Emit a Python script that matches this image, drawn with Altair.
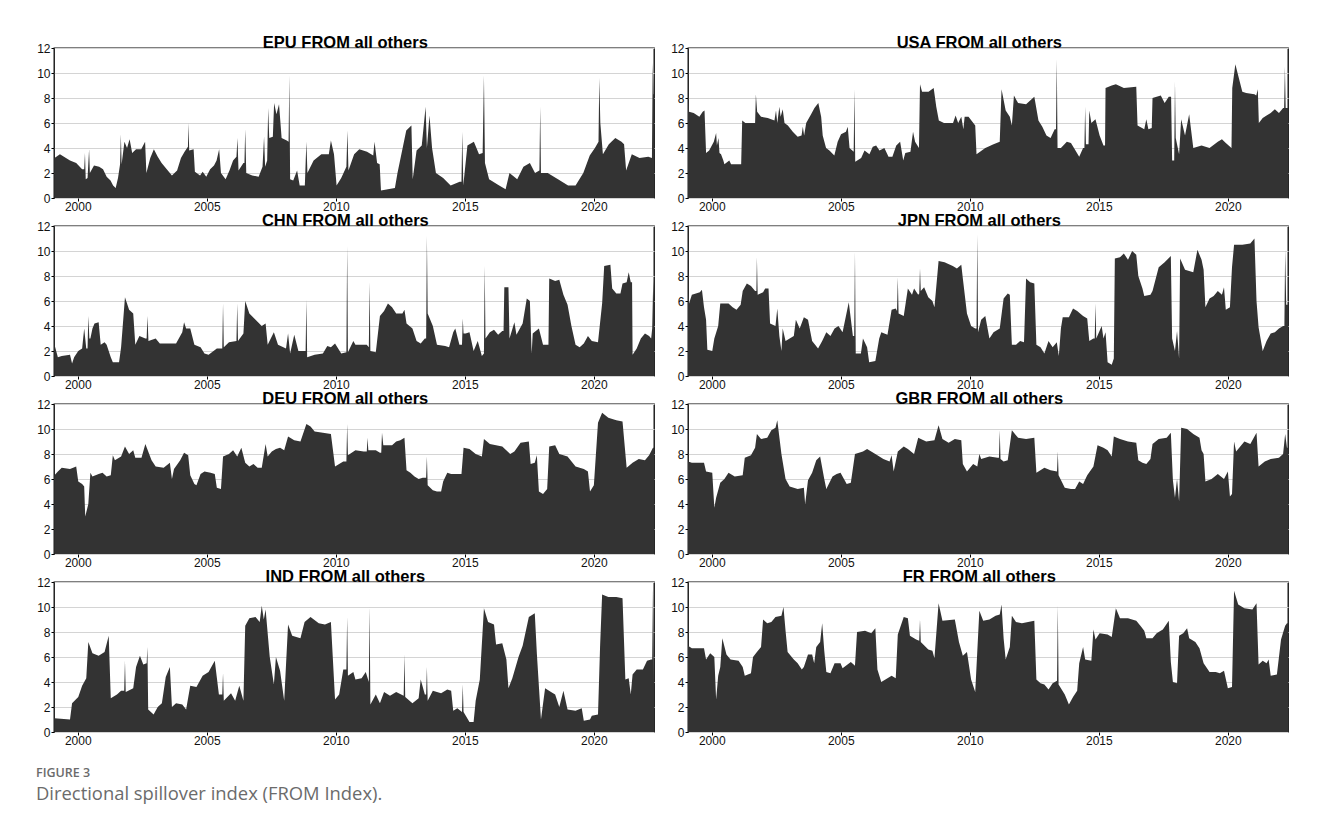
import altair as alt
import pandas as pd

# ---- data: (decimal year, FROM index) ----
EPU = [(1999.10,3.2),(1999.31,3.5),(1999.70,3.0),(1999.94,2.8),(2000.17,2.3),(2000.25,2.3),(2000.28,3.6),(2000.31,1.5),
       (2000.38,1.6),(2000.44,3.9),(2000.47,2.0),(2000.63,2.6),(2000.83,2.5),(2000.98,2.3),(2001.12,1.7),(2001.27,1.4),
       (2001.37,1.0),(2001.47,0.8),(2001.56,1.6),(2001.64,2.7),(2001.67,5.1),(2001.70,2.7),(2001.81,4.5),(2001.91,4.0),
       (2002.01,4.7),(2002.11,3.6),(2002.26,3.9),(2002.46,3.9),(2002.61,4.5),(2002.66,2.0),(2002.81,3.2),(2002.95,3.9),
       (2003.10,3.3),(2003.25,2.8),(2003.45,2.3),(2003.65,1.8),(2003.85,2.2),(2004.00,3.2),(2004.14,3.7),(2004.27,4.1),
       (2004.29,6.0),(2004.32,3.8),(2004.49,3.9),(2004.54,2.1),(2004.74,1.8),(2004.84,2.1),(2004.98,1.7),(2005.13,2.3),
       (2005.28,2.6),(2005.38,3.0),(2005.48,3.9),(2005.55,2.0),(2005.73,1.5),(2005.88,2.2),(2006.02,3.0),(2006.15,3.3),
       (2006.19,4.8),(2006.23,2.2),(2006.42,2.8),(2006.46,2.8),(2006.49,5.5),(2006.53,2.0),(2006.76,1.8),(2007.01,1.7),
       (2007.16,2.5),(2007.22,4.9),(2007.26,2.5),(2007.34,3.0),(2007.38,7.2),(2007.42,4.8),(2007.56,4.9),(2007.61,7.6),
       (2007.70,6.7),(2007.80,7.5),(2007.90,4.8),(2008.10,4.6),(2008.17,4.5),(2008.20,9.8),(2008.23,1.5),(2008.35,1.4),
       (2008.50,2.2),(2008.60,1.0),(2008.80,1.0),(2008.86,4.5),(2008.90,2.0),(2009.14,3.0),(2009.44,3.5),(2009.73,3.5),
       (2009.81,4.6),(2009.93,3.5),(2010.03,1.0),(2010.21,1.6),(2010.41,2.5),(2010.45,5.4),(2010.49,2.2),(2010.71,3.5),
       (2010.91,3.9),(2011.21,3.7),(2011.45,3.4),(2011.50,4.5),(2011.60,2.8),(2011.70,2.7),(2011.75,0.6),(2012.29,0.8),
       (2012.39,2.0),(2012.54,3.5),(2012.73,5.4),(2012.93,5.8),(2012.98,1.5),(2013.13,3.8),(2013.33,4.2),(2013.48,7.3),
       (2013.53,4.0),(2013.63,6.6),(2013.73,4.0),(2013.88,2.0),(2014.16,1.6),(2014.45,1.0),(2014.80,1.3),(2014.87,1.3),
       (2014.90,5.3),(2014.94,1.0),(2015.10,4.2),(2015.35,4.5),(2015.55,3.5),(2015.69,3.6),(2015.74,9.8),(2015.78,2.8),
       (2015.94,1.5),(2016.33,1.0),(2016.58,0.7),(2016.73,2.0),(2017.03,1.5),(2017.27,2.5),(2017.52,2.8),(2017.72,2.0),
       (2017.89,2.2),(2017.92,7.3),(2017.95,2.0),(2018.21,2.0),(2018.61,1.5),(2019.00,1.0),(2019.29,1.0),(2019.59,2.0),
       (2019.84,3.4),(2020.04,4.0),(2020.18,4.5),(2020.21,9.6),(2020.25,6.0),(2020.35,3.5),(2020.58,4.3),(2020.83,4.8),
       (2021.07,4.5),(2021.17,4.3),(2021.25,2.2),(2021.47,3.5),(2021.77,3.2),(2022.11,3.3),(2022.25,3.2),(2022.28,10.8),
       (2022.31,8.3),(2022.33,8.3)]

USA = [(1999.08,7.8),(1999.12,6.9),(1999.30,6.8),(1999.52,6.5),(1999.65,6.9),(1999.72,7.0),(1999.78,3.6),(1999.90,3.8),
       (2000.08,4.5),(2000.17,5.2),(2000.20,4.2),(2000.26,4.8),(2000.30,3.6),(2000.36,3.5),(2000.45,3.0),(2000.49,2.7),
       (2000.68,3.0),(2000.75,2.7),(2001.14,2.7),(2001.18,6.2),(2001.30,6.0),(2001.68,6.0),(2001.71,8.3),(2001.76,6.9),
       (2001.91,6.5),(2002.17,6.4),(2002.43,6.2),(2002.49,7.0),(2002.54,6.0),(2002.62,7.3),(2002.67,6.5),(2002.75,7.1),
       (2002.82,6.0),(2002.95,5.8),(2003.14,5.3),(2003.33,4.9),(2003.48,5.0),(2003.53,5.7),(2003.58,5.0),(2003.66,6.0),
       (2003.85,6.7),(2003.98,7.2),(2004.13,7.6),(2004.24,6.5),(2004.30,5.0),(2004.43,4.0),(2004.56,3.8),(2004.75,3.4),
       (2004.88,4.5),(2005.01,5.1),(2005.20,5.3),(2005.27,5.7),(2005.34,4.0),(2005.50,3.7),(2005.53,8.7),(2005.56,2.9),
       (2005.79,3.2),(2005.92,3.8),(2006.11,3.5),(2006.24,4.1),(2006.37,4.2),(2006.50,3.8),(2006.69,4.0),(2006.85,3.3),
       (2007.00,3.3),(2007.15,4.2),(2007.30,4.5),(2007.42,3.0),(2007.50,3.6),(2007.70,3.7),(2007.80,5.3),(2007.88,4.5),
       (2008.03,4.0),(2008.07,9.1),(2008.15,8.5),(2008.40,8.5),(2008.60,8.8),(2008.70,7.3),(2008.80,6.2),(2009.00,6.0),
       (2009.35,6.0),(2009.45,6.6),(2009.55,6.0),(2009.67,6.5),(2009.75,5.5),(2009.80,6.5),(2009.95,6.5),(2010.21,5.8),
       (2010.26,3.5),(2010.60,4.0),(2010.92,4.3),(2011.16,4.5),(2011.23,8.7),(2011.39,7.0),(2011.55,6.5),(2011.63,5.8),
       (2011.71,8.2),(2011.87,7.6),(2012.18,7.5),(2012.34,7.8),(2012.50,8.1),(2012.66,6.2),(2012.81,5.7),(2012.97,5.0),
       (2013.13,4.8),(2013.29,5.5),(2013.34,5.5),(2013.37,11.1),(2013.40,4.0),(2013.53,4.0),(2013.76,4.5),(2013.92,4.4),
       (2014.24,3.3),(2014.39,4.0),(2014.44,4.0),(2014.47,7.3),(2014.50,4.3),(2014.60,4.3),(2014.63,7.0),(2014.71,6.0),
       (2014.87,6.3),(2015.03,5.0),(2015.18,4.2),(2015.24,4.2),(2015.26,8.8),(2015.50,9.0),(2015.66,9.1),(2015.97,8.8),
       (2016.45,8.9),(2016.50,5.8),(2016.76,5.5),(2016.84,6.3),(2016.92,5.5),(2017.05,5.6),(2017.08,8.0),(2017.40,8.2),
       (2017.55,7.6),(2017.71,8.1),(2017.80,8.1),(2017.84,3.0),(2017.92,3.0),(2017.95,9.3),(2017.98,4.8),(2018.11,3.5),
       (2018.19,6.3),(2018.34,5.0),(2018.50,6.7),(2018.66,4.0),(2018.98,4.2),(2019.29,4.0),(2019.61,4.5),(2019.77,4.7),
       (2019.92,4.4),(2020.14,4.0),(2020.17,8.8),(2020.29,10.7),(2020.40,9.8),(2020.56,8.5),(2020.71,8.4),(2021.03,8.3),
       (2021.10,8.2),(2021.16,8.7),(2021.20,6.0),(2021.35,6.4),(2021.50,6.6),(2021.66,6.8),(2021.82,7.1),(2021.98,6.8),
       (2022.14,7.2),(2022.18,7.2),(2022.21,10.5),(2022.24,7.2),(2022.33,7.2)]

CHN = [(1999.10,2.5),(1999.23,1.5),(1999.38,1.6),(1999.70,1.7),(1999.78,1.0),(1999.86,1.5),(2000.02,2.0),(2000.17,2.2),
       (2000.25,3.8),(2000.33,2.2),(2000.38,2.2),(2000.41,4.8),(2000.45,3.0),(2000.49,3.0),(2000.57,3.8),(2000.65,4.2),
       (2000.81,4.3),(2000.89,2.5),(2001.04,2.7),(2001.12,2.5),(2001.28,1.5),(2001.36,1.1),(2001.60,1.1),(2001.68,2.3),
       (2001.83,6.3),(2001.99,5.3),(2002.15,5.0),(2002.23,2.5),(2002.39,3.2),(2002.62,3.0),(2002.67,3.0),(2002.70,4.8),
       (2002.74,2.8),(2003.02,3.0),(2003.18,2.6),(2003.81,2.6),(2004.05,3.5),(2004.12,4.3),(2004.20,3.8),(2004.36,3.8),
       (2004.52,2.5),(2004.76,2.3),(2004.91,1.8),(2005.07,1.7),(2005.39,2.2),(2005.60,2.2),(2005.63,5.8),(2005.66,2.3),
       (2005.86,2.7),(2006.15,2.8),(2006.18,5.8),(2006.21,2.8),(2006.42,3.4),(2006.49,6.0),(2006.65,5.0),(2006.89,4.5),
       (2007.13,4.0),(2007.28,4.2),(2007.36,2.5),(2007.60,3.5),(2007.76,2.5),(2008.07,2.2),(2008.15,3.4),(2008.23,1.8),
       (2008.39,3.3),(2008.55,2.0),(2008.83,2.0),(2008.86,6.1),(2008.89,1.5),(2009.18,1.7),(2009.50,1.8),(2009.67,2.4),
       (2009.81,2.3),(2009.97,2.6),(2010.21,1.8),(2010.41,1.9),(2010.44,10.4),(2010.47,1.9),(2010.68,2.8),(2010.76,2.5),
       (2011.20,2.5),(2011.28,2.3),(2011.31,7.5),(2011.34,2.0),(2011.55,1.9),(2011.71,4.8),(2011.87,5.2),(2012.02,5.8),
       (2012.18,5.5),(2012.34,5.0),(2012.58,5.0),(2012.66,5.3),(2012.74,4.2),(2012.97,3.8),(2013.13,2.8),(2013.29,2.6),
       (2013.45,3.0),(2013.50,3.0),(2013.53,11.2),(2013.56,5.0),(2013.76,4.0),(2013.92,2.5),(2014.24,2.4),(2014.39,2.3),
       (2014.55,3.5),(2014.63,3.8),(2014.79,2.5),(2014.89,2.5),(2014.92,4.6),(2014.95,3.4),(2015.03,3.4),(2015.18,3.5),
       (2015.34,2.0),(2015.50,2.8),(2015.66,1.6),(2015.74,1.8),(2015.77,8.8),(2015.80,3.0),(2015.97,3.5),(2016.13,3.7),
       (2016.29,3.3),(2016.45,3.6),(2016.50,3.6),(2016.53,7.1),(2016.69,7.1),(2016.73,3.0),(2016.92,4.3),(2017.00,3.3),
       (2017.24,4.2),(2017.40,6.2),(2017.52,6.0),(2017.59,1.8),(2017.63,3.4),(2017.87,3.8),(2018.03,2.5),(2018.24,2.5),
       (2018.27,7.8),(2018.50,7.6),(2018.66,7.7),(2018.82,6.5),(2018.98,5.7),(2019.13,4.0),(2019.29,2.5),(2019.45,2.3),
       (2019.61,2.6),(2019.77,3.2),(2019.92,2.8),(2020.16,2.7),(2020.32,5.8),(2020.40,8.8),(2020.64,8.9),(2020.71,7.0),
       (2020.87,6.6),(2021.03,6.6),(2021.11,7.4),(2021.27,7.5),(2021.35,8.3),(2021.43,7.5),(2021.48,7.5),(2021.50,1.7),
       (2021.66,2.2),(2021.82,3.0),(2021.98,3.4),(2022.14,3.2),(2022.22,3.0),(2022.26,3.8),(2022.30,7.6),(2022.33,6.0)]

JPN = [(1999.08,6.7),(1999.12,5.8),(1999.23,6.5),(1999.54,6.7),(1999.62,6.9),(1999.70,5.5),(1999.78,4.5),(1999.83,2.1),
       (2000.02,2.0),(2000.10,3.0),(2000.25,4.0),(2000.33,5.8),(2000.65,5.8),(2000.81,5.5),(2000.96,5.3),(2001.12,5.7),
       (2001.20,6.8),(2001.36,7.4),(2001.52,7.2),(2001.68,6.8),(2001.73,6.8),(2001.75,9.5),(2001.78,6.5),(2001.99,6.7),
       (2002.07,7.0),(2002.20,7.0),(2002.26,4.2),(2002.47,4.0),(2002.54,5.4),(2002.62,3.2),(2002.70,2.0),(2002.75,3.8),
       (2002.86,2.8),(2003.18,3.2),(2003.26,4.5),(2003.41,3.8),(2003.57,4.7),(2003.73,4.5),(2003.89,2.8),(2004.12,2.2),
       (2004.28,2.8),(2004.44,3.5),(2004.60,3.2),(2004.76,3.8),(2004.91,4.0),(2005.07,3.5),(2005.31,5.9),(2005.47,3.2),
       (2005.52,3.2),(2005.55,9.9),(2005.58,1.8),(2005.78,1.8),(2005.86,3.0),(2006.02,2.3),(2006.10,1.1),(2006.34,1.2),
       (2006.49,3.0),(2006.57,3.5),(2006.81,3.3),(2006.97,5.3),(2007.13,5.4),(2007.18,5.2),(2007.21,7.9),(2007.24,5.0),
       (2007.44,4.8),(2007.60,7.0),(2007.76,6.5),(2007.84,7.0),(2008.00,6.5),(2008.04,6.6),(2008.07,8.6),(2008.10,6.8),
       (2008.23,7.1),(2008.39,6.3),(2008.55,6.0),(2008.63,5.5),(2008.79,9.2),(2009.02,9.1),(2009.34,8.8),(2009.50,8.6),
       (2009.67,8.9),(2009.73,7.8),(2009.89,5.0),(2010.05,4.0),(2010.21,3.8),(2010.26,3.8),(2010.29,11.3),(2010.32,3.5),
       (2010.44,4.5),(2010.60,4.8),(2010.76,3.0),(2010.92,3.5),(2011.16,3.8),(2011.31,6.2),(2011.47,6.6),(2011.55,6.5),
       (2011.63,2.5),(2011.79,2.5),(2011.95,2.8),(2012.10,2.7),(2012.18,7.8),(2012.34,7.5),(2012.50,7.4),(2012.58,2.5),
       (2012.74,2.3),(2012.89,1.8),(2013.05,2.8),(2013.21,2.3),(2013.37,2.7),(2013.45,1.6),(2013.53,3.8),(2013.60,4.7),
       (2013.84,4.7),(2014.00,5.4),(2014.16,5.2),(2014.39,4.8),(2014.55,4.6),(2014.63,2.8),(2014.79,3.0),(2014.84,3.0),
       (2014.87,5.8),(2014.90,3.0),(2015.11,4.0),(2015.18,3.0),(2015.26,3.5),(2015.34,1.1),(2015.50,0.9),(2015.58,1.4),
       (2015.62,9.4),(2015.82,9.5),(2015.97,9.8),(2016.13,9.3),(2016.29,10.0),(2016.45,9.7),(2016.53,8.0),(2016.69,7.0),
       (2016.76,6.4),(2017.00,6.5),(2017.08,6.8),(2017.32,8.7),(2017.55,9.1),(2017.79,9.6),(2017.84,3.0),(2017.95,2.0),
       (2018.03,3.6),(2018.11,1.4),(2018.15,9.4),(2018.34,8.5),(2018.66,8.3),(2018.82,10.1),(2018.98,9.3),(2019.06,8.5),
       (2019.13,5.5),(2019.29,6.2),(2019.45,6.4),(2019.61,6.8),(2019.77,6.5),(2019.85,7.1),(2019.92,5.3),(2020.08,5.5),
       (2020.16,8.7),(2020.24,10.5),(2020.56,10.5),(2020.87,10.6),(2021.03,11.0),(2021.11,6.0),(2021.19,3.9),(2021.35,2.0),
       (2021.50,2.8),(2021.66,3.4),(2021.82,3.5),(2021.98,3.8),(2022.14,4.0),(2022.19,4.0),(2022.22,10.1),(2022.26,5.7),
       (2022.33,5.7)]

DEU = [(1999.10,6.3),(1999.23,6.6),(1999.38,6.9),(1999.70,6.8),(1999.94,7.0),(2000.02,5.8),(2000.17,5.6),(2000.25,5.4),
       (2000.29,3.0),(2000.41,4.0),(2000.49,6.5),(2000.57,6.2),(2000.81,6.4),(2000.96,6.5),(2001.12,6.2),(2001.28,6.3),
       (2001.36,7.9),(2001.44,7.5),(2001.68,7.8),(2001.83,8.6),(2001.99,8.0),(2002.15,8.3),(2002.23,7.7),(2002.47,7.7),
       (2002.62,8.8),(2002.86,7.5),(2003.02,7.0),(2003.33,6.9),(2003.57,7.3),(2003.65,6.0),(2003.73,6.8),(2003.97,7.5),
       (2004.12,8.1),(2004.28,7.9),(2004.36,6.3),(2004.52,5.6),(2004.60,5.5),(2004.76,6.4),(2004.91,6.6),(2005.15,6.5),
       (2005.31,6.4),(2005.39,5.3),(2005.55,5.2),(2005.63,7.8),(2005.86,8.0),(2006.02,8.3),(2006.18,7.8),(2006.34,8.5),
       (2006.49,7.3),(2006.65,7.0),(2006.81,7.2),(2006.97,6.9),(2007.13,6.9),(2007.28,8.8),(2007.36,7.8),(2007.52,8.2),
       (2007.68,8.4),(2007.84,8.5),(2008.00,8.3),(2008.15,9.4),(2008.39,9.1),(2008.63,9.0),(2008.86,10.4),(2009.02,10.2),
       (2009.18,9.8),(2009.50,9.7),(2009.81,9.6),(2009.97,7.0),(2010.13,7.2),(2010.29,7.4),(2010.41,7.4),(2010.44,10.4),
       (2010.47,7.9),(2010.76,8.3),(2011.08,8.2),(2011.20,8.2),(2011.23,9.3),(2011.26,8.3),(2011.55,8.3),(2011.71,8.1),
       (2011.76,8.1),(2011.79,9.7),(2011.84,8.7),(2012.18,8.7),(2012.34,9.0),(2012.50,9.1),(2012.66,9.3),(2012.74,6.7),
       (2012.89,6.5),(2013.05,6.2),(2013.21,6.0),(2013.37,6.1),(2013.50,6.1),(2013.53,7.8),(2013.56,5.5),(2013.76,5.1),
       (2013.92,5.0),(2014.08,5.0),(2014.16,5.8),(2014.32,6.5),(2014.47,6.4),(2014.87,6.4),(2014.95,8.5),(2015.18,8.4),
       (2015.42,8.0),(2015.66,7.8),(2015.74,9.2),(2015.97,8.8),(2016.45,8.6),(2016.76,8.0),(2016.92,8.2),(2017.16,8.9),
       (2017.48,9.0),(2017.55,7.2),(2017.71,7.3),(2017.79,7.9),(2017.87,5.0),(2018.03,4.8),(2018.19,5.2),(2018.27,8.6),
       (2018.50,8.7),(2018.66,8.0),(2018.98,7.8),(2019.29,7.0),(2019.61,6.8),(2019.77,6.6),(2019.85,5.0),(2020.00,5.5),
       (2020.16,10.5),(2020.32,11.3),(2020.56,10.9),(2020.87,10.7),(2021.11,10.6),(2021.27,6.9),(2021.50,7.3),(2021.74,7.6),
       (2021.98,7.5),(2022.14,7.9),(2022.29,8.5),(2022.33,8.5)]

GBR = [(1999.08,7.4),(1999.23,7.3),(1999.70,7.3),(1999.78,6.6),(2000.02,6.5),(2000.10,3.7),(2000.17,4.5),(2000.33,5.7),
       (2000.49,6.0),(2000.65,6.5),(2000.89,6.2),(2001.20,6.3),(2001.28,7.7),(2001.52,7.9),(2001.68,8.5),(2001.75,9.6),
       (2001.91,9.2),(2002.15,9.3),(2002.31,9.9),(2002.47,10.1),(2002.54,10.7),(2002.70,8.0),(2002.86,6.0),(2003.02,5.4),
       (2003.33,5.2),(2003.57,5.3),(2003.62,4.0),(2003.73,5.9),(2003.89,6.5),(2004.05,7.5),(2004.20,7.8),(2004.36,6.0),
       (2004.44,5.2),(2004.68,6.2),(2004.84,6.4),(2004.99,6.5),(2005.07,6.2),(2005.23,5.6),(2005.39,5.7),(2005.55,8.0),
       (2005.86,8.2),(2006.02,8.4),(2006.34,8.0),(2006.65,7.6),(2006.89,7.4),(2006.97,7.9),(2007.05,6.6),(2007.21,8.2),
       (2007.44,8.6),(2007.60,8.4),(2007.84,8.0),(2008.00,9.3),(2008.31,9.0),(2008.63,9.1),(2008.79,10.3),(2008.94,9.2),
       (2009.18,8.9),(2009.42,9.2),(2009.67,9.1),(2009.73,7.2),(2009.89,6.6),(2010.13,7.2),(2010.29,7.0),(2010.37,8.0),
       (2010.44,7.6),(2010.76,7.8),(2011.08,7.7),(2011.13,7.7),(2011.16,9.9),(2011.19,7.6),(2011.31,7.4),(2011.47,7.5),
       (2011.63,9.9),(2011.87,9.3),(2012.18,9.2),(2012.50,9.3),(2012.58,6.5),(2012.89,6.9),(2013.13,6.7),(2013.38,6.6),
       (2013.41,8.2),(2013.44,6.3),(2013.68,5.3),(2013.92,5.2),(2014.08,5.2),(2014.24,5.8),(2014.39,5.6),(2014.55,6.3),
       (2014.79,7.0),(2014.95,8.7),(2015.18,8.5),(2015.34,8.3),(2015.50,7.8),(2015.58,9.4),(2015.82,9.2),(2016.13,9.0),
       (2016.45,8.9),(2016.53,7.5),(2016.69,7.3),(2016.84,7.2),(2017.00,7.6),(2017.08,8.8),(2017.32,9.2),(2017.63,9.3),
       (2017.79,9.7),(2017.87,5.9),(2017.95,4.5),(2018.03,6.0),(2018.11,4.2),(2018.19,10.1),(2018.42,10.0),(2018.66,9.6),
       (2018.90,9.3),(2018.98,8.3),(2019.06,8.0),(2019.13,5.8),(2019.37,6.0),(2019.61,6.4),(2019.85,6.0),(2020.00,6.6),
       (2020.08,4.6),(2020.16,4.8),(2020.24,9.0),(2020.32,8.2),(2020.48,8.6),(2020.64,9.0),(2020.87,8.8),(2021.11,9.7),
       (2021.19,7.0),(2021.43,7.4),(2021.66,7.6),(2021.98,7.7),(2022.14,8.0),(2022.22,9.6),(2022.29,8.5),(2022.33,8.5)]

IND = [(1999.10,1.1),(1999.70,1.0),(1999.78,2.3),(2000.02,2.8),(2000.17,3.7),(2000.33,4.3),(2000.41,7.2),(2000.57,6.3),
       (2000.81,6.1),(2001.04,6.4),(2001.20,7.7),(2001.28,2.7),(2001.52,3.0),(2001.68,3.3),(2001.80,3.3),(2001.83,5.7),
       (2001.86,3.2),(2002.15,3.5),(2002.26,5.2),(2002.41,6.1),(2002.54,5.4),(2002.67,5.5),(2002.70,6.8),(2002.73,1.8),
       (2002.94,1.4),(2003.10,2.0),(2003.26,2.3),(2003.41,4.4),(2003.57,5.2),(2003.65,2.0),(2003.81,2.3),(2004.05,2.2),
       (2004.20,1.8),(2004.36,3.7),(2004.60,3.6),(2004.84,4.5),(2005.07,4.8),(2005.31,5.7),(2005.47,3.0),(2005.60,3.0),
       (2005.63,4.7),(2005.66,2.5),(2005.94,3.1),(2006.10,2.5),(2006.26,3.7),(2006.42,2.5),(2006.49,8.5),(2006.65,9.1),
       (2006.89,9.2),(2007.05,8.8),(2007.13,10.1),(2007.21,9.0),(2007.28,9.8),(2007.44,6.0),(2007.60,3.8),(2007.68,6.0),
       (2007.84,4.9),(2008.00,2.5),(2008.15,8.6),(2008.31,7.7),(2008.63,7.5),(2008.79,8.8),(2009.02,9.2),(2009.34,8.7),
       (2009.58,8.6),(2009.81,8.8),(2009.97,2.6),(2010.13,3.0),(2010.29,5.0),(2010.41,5.0),(2010.44,9.2),(2010.47,4.5),
       (2010.68,4.8),(2010.76,4.2),(2011.00,4.3),(2011.16,4.8),(2011.28,4.0),(2011.31,10.0),(2011.34,2.2),(2011.55,3.0),
       (2011.71,2.3),(2011.87,3.2),(2012.10,2.9),(2012.34,3.2),(2012.63,2.9),(2012.66,6.2),(2012.69,2.8),(2012.97,2.3),
       (2013.21,2.7),(2013.29,4.2),(2013.45,3.0),(2013.50,3.0),(2013.53,5.2),(2013.56,2.5),(2013.76,3.3),(2014.08,3.1),
       (2014.32,3.4),(2014.47,3.3),(2014.55,1.7),(2014.71,1.9),(2014.89,1.6),(2014.92,3.8),(2014.95,1.6),(2015.18,0.8),
       (2015.34,0.8),(2015.42,2.5),(2015.58,4.2),(2015.74,9.9),(2015.90,8.8),(2016.13,8.6),(2016.21,7.0),(2016.45,7.1),
       (2016.61,5.8),(2016.69,3.5),(2016.84,4.3),(2017.08,6.0),(2017.24,6.9),(2017.48,9.2),(2017.71,9.5),(2017.79,6.3),
       (2017.95,1.0),(2018.11,3.5),(2018.34,3.2),(2018.50,3.0),(2018.66,2.0),(2018.82,3.3),(2018.98,1.8),(2019.29,1.7),
       (2019.53,1.9),(2019.61,0.9),(2019.85,1.0),(2019.92,1.3),(2020.16,1.4),(2020.24,6.8),(2020.32,11.0),(2020.56,10.8),
       (2020.87,10.8),(2021.11,10.7),(2021.22,4.2),(2021.35,4.3),(2021.43,3.0),(2021.50,4.6),(2021.66,5.0),(2021.90,5.0),
       (2022.06,5.7),(2022.22,5.8),(2022.26,5.8),(2022.29,11.4),(2022.33,4.0)]

FR = [(1999.08,6.9),(1999.23,6.7),(1999.70,6.7),(1999.78,5.8),(1999.94,6.3),(2000.10,6.0),(2000.17,2.6),(2000.25,4.5),
      (2000.33,5.2),(2000.41,7.5),(2000.57,6.2),(2000.73,5.8),(2001.04,5.7),(2001.20,5.2),(2001.28,4.5),(2001.52,4.7),
      (2001.60,6.0),(2001.75,6.4),(2001.91,6.8),(2001.99,9.0),(2002.15,8.7),(2002.31,8.8),(2002.47,9.2),(2002.70,9.3),
      (2002.78,10.0),(2002.86,8.1),(2002.94,6.4),(2003.18,5.8),(2003.33,5.5),(2003.49,5.0),(2003.57,5.2),(2003.73,6.2),
      (2003.89,6.2),(2003.97,5.5),(2004.05,6.8),(2004.20,7.2),(2004.28,8.7),(2004.36,6.5),(2004.44,4.8),(2004.60,4.7),
      (2004.76,5.5),(2004.99,5.5),(2005.07,5.1),(2005.39,5.6),(2005.55,5.3),(2005.63,8.0),(2005.94,8.1),(2006.18,7.9),
      (2006.34,8.3),(2006.42,5.0),(2006.57,4.0),(2006.73,4.2),(2006.97,4.5),(2007.13,4.3),(2007.21,7.8),(2007.44,9.2),
      (2007.60,9.1),(2007.68,7.7),(2007.92,7.4),(2008.04,7.3),(2008.07,9.0),(2008.10,7.2),(2008.39,6.6),(2008.55,6.5),
      (2008.63,5.9),(2008.79,10.3),(2008.94,8.9),(2009.42,9.0),(2009.58,7.2),(2009.73,6.1),(2009.89,6.4),(2010.05,4.2),
      (2010.21,3.2),(2010.37,9.7),(2010.52,8.9),(2010.76,9.0),(2011.00,9.3),(2011.16,9.4),(2011.23,10.2),(2011.31,7.5),
      (2011.39,5.8),(2011.55,6.8),(2011.63,9.3),(2011.79,8.8),(2012.02,8.7),(2012.26,8.8),(2012.50,8.9),(2012.58,4.2),
      (2012.74,3.9),(2012.89,3.8),(2013.05,3.4),(2013.21,3.9),(2013.38,4.1),(2013.41,10.1),(2013.44,3.8),(2013.68,3.0),
      (2013.84,2.2),(2014.00,2.8),(2014.16,3.3),(2014.24,5.5),(2014.39,6.8),(2014.47,5.8),(2014.71,5.7),(2014.79,8.2),
      (2014.87,7.4),(2015.03,7.9),(2015.34,7.8),(2015.50,7.6),(2015.66,9.9),(2015.82,9.1),(2016.13,9.1),(2016.45,8.9),
      (2016.61,8.5),(2016.76,8.1),(2016.84,7.5),(2017.08,7.5),(2017.24,7.9),(2017.48,8.2),(2017.71,8.9),(2017.79,5.6),
      (2017.87,4.0),(2018.03,3.9),(2018.11,7.7),(2018.27,7.9),(2018.42,8.3),(2018.50,7.5),(2018.74,7.2),(2018.90,6.7),
      (2019.06,5.5),(2019.29,4.8),(2019.53,4.8),(2019.69,4.7),(2019.85,4.9),(2020.00,3.5),(2020.16,3.6),(2020.24,11.3),
      (2020.40,10.2),(2020.64,9.9),(2020.95,9.8),(2021.11,10.3),(2021.19,5.4),(2021.35,5.7),(2021.50,5.5),(2021.58,5.8),
      (2021.66,4.5),(2021.90,4.6),(2022.06,7.4),(2022.22,8.5),(2022.29,8.7),(2022.33,8.7)]

SERIES = [("EPU", EPU), ("USA", USA), ("CHN", CHN), ("JPN", JPN),
          ("DEU", DEU), ("GBR", GBR), ("IND", IND), ("FR", FR)]
YEAR_TICKS = [2000, 2005, 2010, 2015, 2020]
Y_TICKS = [0, 2, 4, 6, 8, 10, 12]
X_DOMAIN = [1999.08, 2022.33]

FONT = "Liberation Sans"


def panel(name, pts):
    df = pd.DataFrame(pts, columns=["year", "value"])
    return (
        alt.Chart(df)
        .mark_area(color="#333333", clip=True, interpolate="linear")
        .encode(
            x=alt.X("year:Q", title=None,
                    scale=alt.Scale(domain=X_DOMAIN, nice=False, zero=False),
                    axis=alt.Axis(values=YEAR_TICKS, format="d", grid=False, domain=False,
                                  tickSize=3, tickColor="#000", labelPadding=0,
                                  labelFont=FONT, labelFontSize=12, labelColor="#111",
                                  labelFlush=False)),
            y=alt.Y("value:Q", title=None,
                    scale=alt.Scale(domain=[0, 12], nice=False),
                    axis=alt.Axis(values=Y_TICKS, grid=True, gridColor="#d4d4d4", gridWidth=1.2,
                                  domain=False, tickSize=3, tickColor="#000", labelPadding=1,
                                  labelFont=FONT, labelFontSize=12, labelColor="#111")),
        )
        .properties(
            width=600, height=150,
            title=alt.TitleParams(f"{name} FROM all others", font=FONT, fontSize=16.5,
                                  fontWeight="bold", color="#000", offset=-9,
                                  anchor="middle", frame="bounds"),
        )
    )


charts = [panel(n, p) for n, p in SERIES]

chart = (
    alt.concat(*charts, columns=2, spacing={"row": 28, "column": 34}, bounds="flush")
    .properties(
        padding={"left": 28, "top": 25, "right": 10, "bottom": 10},
        title=alt.TitleParams(
            "FIGURE 3",
            subtitle="Directional spillover index (FROM Index).",
            orient="bottom", anchor="start", frame="bounds", offset=20,
            font="Open Sans", fontSize=12.5, fontWeight=600, color="#6b6b6b",
            subtitleFont="Open Sans", subtitleFontSize=18.4, subtitleColor="#6b6b6b",
            subtitlePadding=6,
        ),
    )
    .configure_view(stroke="#000", strokeWidth=1.3)
)

chart.save("out.html", embed_options={"renderer": "svg", "actions": False})
